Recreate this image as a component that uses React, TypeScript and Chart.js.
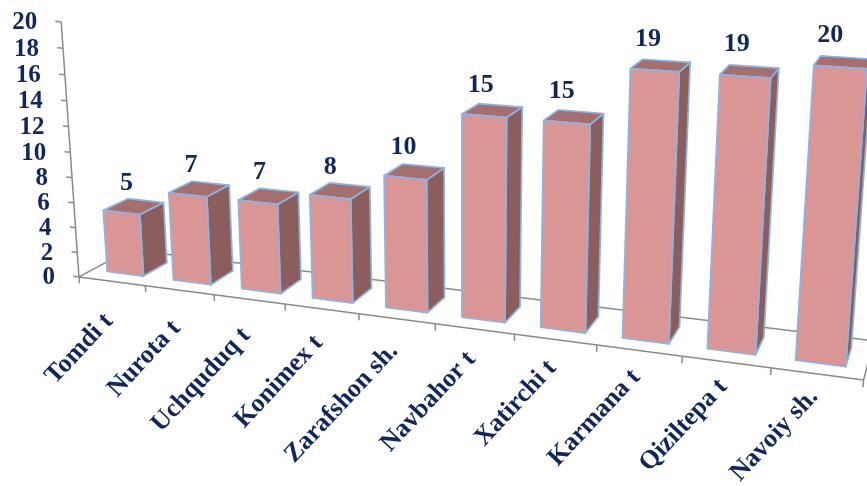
import React, { useEffect, useRef } from 'react';
import { Chart, registerables } from 'chart.js';

Chart.register(...registerables);

// ---- data ----
const categories = [
  'Tomdi t',
  'Nurota t',
  'Uchquduq t',
  'Konimex t',
  'Zarafshon sh.',
  'Navbahor t',
  'Xatirchi t',
  'Karmana t',
  'Qiziltepa t',
  'Navoiy sh.',
];
const values = [5, 7, 7, 8, 10, 15, 15, 19, 19, 20];
const yMin = 0;
const yMax = 20;
const yStep = 2;

// ---- style ----
const TEXT_COLOR = '#0f275c';
const FAMILY = '"Times New Roman", "Liberation Serif", serif';
const AXIS_COLOR = '#8a8a8a';
const FRONT = '#d99694';
const SIDE = '#8b5e5d';
const TOP = '#a46f6e';
const EDGE = '#8db3e2';

// 3D box / camera (layout)
const BOX = { width: 815, height: 275, depth: 100, pivotZ: 75, barZ: 26, barDepth: 48, tick: 7 };
const CAM = { yaw: 20, pitch: 15, focal: 1500, cx: 461.5, cy: 169.3 };

function project(X: number, Y: number, Z: number): [number, number] {
  const a = (CAM.yaw * Math.PI) / 180;
  const b = (CAM.pitch * Math.PI) / 180;
  const x = X - BOX.width / 2;
  const y = Y - BOX.height / 2;
  const z = Z - BOX.pivotZ;
  const x1 = x * Math.cos(a) + z * Math.sin(a);
  const z1 = -x * Math.sin(a) + z * Math.cos(a);
  const y2 = y * Math.cos(b) + z1 * Math.sin(b);
  const z2 = -y * Math.sin(b) + z1 * Math.cos(b);
  const s = CAM.focal / (CAM.focal + z2);
  return [CAM.cx + x1 * s, CAM.cy - y2 * s];
}

const scene3d = {
  id: 'scene3d',
  beforeDatasetsDraw() {
    return false;
  },
  afterDraw(chart: any) {
    const ctx: CanvasRenderingContext2D = chart.ctx;
    const area = chart.chartArea;
    const xs = chart.scales.x;
    const ys = chart.scales.y;
    const labels: string[] = chart.data.labels;
    const n = labels.length;
    const W = BOX.width;
    const D = BOX.depth;
    const toX = (px: number) => ((px - area.left) / area.width) * W;
    const toY = (py: number) => ((area.bottom - py) / area.height) * BOX.height;

    const line = (p: [number, number], q: [number, number]) => {
      ctx.beginPath();
      ctx.moveTo(p[0], p[1]);
      ctx.lineTo(q[0], q[1]);
      ctx.stroke();
    };
    const poly = (pts: [number, number][], fill: string) => {
      ctx.beginPath();
      ctx.moveTo(pts[0][0], pts[0][1]);
      for (let i = 1; i < pts.length; i++) ctx.lineTo(pts[i][0], pts[i][1]);
      ctx.closePath();
      ctx.fillStyle = fill;
      ctx.fill();
      ctx.stroke();
    };

    ctx.save();
    ctx.lineCap = 'butt';
    // floor back edges
    ctx.strokeStyle = AXIS_COLOR;
    ctx.lineWidth = 1.5;
    line(project(0, 0, 0), project(0, 0, D));
    line(project(0, 0, D), project(W, 0, D));
    line(project(W, 0, D), project(W, 0, 0));

    // bars
    const meta = chart.getDatasetMeta(0);
    ctx.lineJoin = 'round';
    meta.data.forEach((el: any) => {
      const p = el.getProps(['x', 'y', 'base', 'width'], true);
      const xl = toX(p.x - p.width / 2);
      const xr = toX(p.x + p.width / 2);
      const yt = toY(p.y);
      const yb = toY(p.base);
      const z1 = BOX.barZ;
      const z2 = BOX.barZ + BOX.barDepth;
      ctx.strokeStyle = EDGE;
      ctx.lineWidth = 1.7;
      poly([project(xr, yb, z1), project(xr, yb, z2), project(xr, yt, z2), project(xr, yt, z1)], SIDE);
      poly([project(xl, yt, z1), project(xr, yt, z1), project(xr, yt, z2), project(xl, yt, z2)], TOP);
      poly([project(xl, yb, z1), project(xr, yb, z1), project(xr, yt, z1), project(xl, yt, z1)], FRONT);
    });

    // front edge + category ticks
    ctx.strokeStyle = AXIS_COLOR;
    ctx.lineWidth = 1.5;
    line(project(0, 0, 0), project(W, 0, 0));
    for (let k = 0; k <= n; k++) {
      const X = toX(xs.getPixelForValue(k - 0.5));
      line(project(X, 0, 0), project(X, -BOX.tick, 0));
    }

    // value axis
    line(project(0, 0, 0), project(0, BOX.height, 0));
    let ticks: number[] = (ys.ticks || []).map((t: any) => t.value);
    if (!ticks.length) {
      ticks = [];
      for (let v = yMin; v <= yMax; v += yStep) ticks.push(v);
    }
    ctx.font = 'bold 25px ' + FAMILY;
    ctx.fillStyle = TEXT_COLOR;
    ctx.textAlign = 'right';
    ctx.textBaseline = 'middle';
    ticks.forEach((v) => {
      const Y = toY(ys.getPixelForValue(v));
      const a = project(0, Y, 0);
      const b = project(-BOX.tick, Y, 0);
      line(a, b);
      ctx.fillText(String(v), a[0] - 24, a[1] + 1);
    });

    // category labels
    ctx.font = 'bold 26px ' + FAMILY;
    labels.forEach((lab, i) => {
      const X = toX(xs.getPixelForValue(i));
      const p = project(X, 0, 0);
      const t = n > 1 ? i / (n - 1) : 0;
      ctx.save();
      ctx.translate(p[0] - 3, p[1] + 36 - 17 * t);
      ctx.rotate((-47 * Math.PI) / 180);
      ctx.textAlign = 'right';
      ctx.textBaseline = 'middle';
      ctx.fillText(lab, 0, 0);
      ctx.restore();
    });

    // data labels
    ctx.font = 'bold 26px ' + FAMILY;
    ctx.textAlign = 'center';
    ctx.textBaseline = 'middle';
    meta.data.forEach((el: any, i: number) => {
      const p = el.getProps(['x', 'y'], true);
      const q = project(toX(p.x), toY(p.y), BOX.barZ);
      const t = n > 1 ? i / (n - 1) : 0;
      ctx.fillText(String(chart.data.datasets[0].data[i]), q[0] + 5 - 15 * t, q[1] - 29 - 3 * t);
    });
    ctx.restore();
  },
};

export default function App() {
  const ref = useRef<HTMLCanvasElement>(null);
  useEffect(() => {
    if (!ref.current) return;
    const chart = new Chart(ref.current, {
      type: 'bar',
      data: {
        labels: categories,
        datasets: [
          {
            data: values,
            backgroundColor: FRONT,
            barPercentage: 0.552,
            categoryPercentage: 1,
          },
        ],
      },
      options: {
        animation: false,
        responsive: false,
        devicePixelRatio: 1,
        layout: { padding: 0 },
        plugins: { legend: { display: false }, tooltip: { enabled: false } },
        scales: {
          x: { display: false, offset: true },
          y: { display: false, min: yMin, max: yMax, ticks: { stepSize: yStep } },
        },
      },
      plugins: [scene3d],
    });
    return () => chart.destroy();
  }, []);
  return (
    <div style={{ position: 'fixed', left: 0, top: 0, width: 867, height: 486, background: '#fff' }}>
      <canvas ref={ref} width={867} height={486} style={{ display: 'block' }} />
    </div>
  );
}
